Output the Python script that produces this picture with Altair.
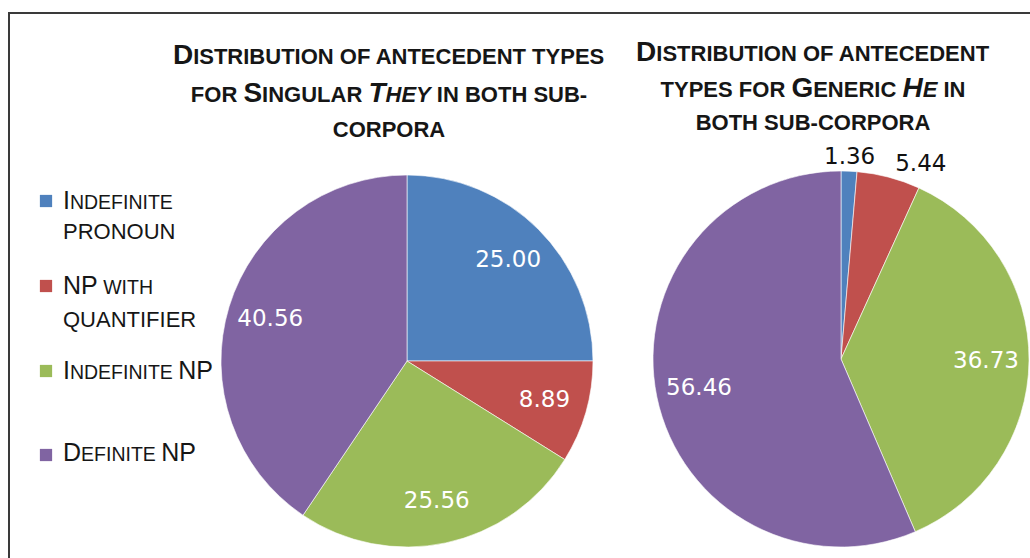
import altair as alt
import pandas as pd

# ---- data -------------------------------------------------------------
categories = ["Indefinite pronoun", "NP with quantifier", "Indefinite NP", "Definite NP"]
colors = ["#4F81BD", "#C0504D", "#9BBB59", "#8064A2"]
they_values = [25.00, 8.89, 25.56, 40.56]   # singular "they"
he_values = [1.36, 5.44, 36.73, 56.46]      # generic "he"

they_title = ["Distribution of antecedent types",
              "for Singular *They* in both sub-",
              "corpora"]
he_title = ["Distribution of antecedent",
            "types for Generic *He* in",
            "both sub-corpora"]
legend_lines = [["Indefinite", "PRONOUN"],
                ["NP with", "QUANTIFIER"],
                ["Indefinite NP"],
                ["Definite NP"]]

# ---- layout -----------------------------------------------------------
W, H = 1030, 558
FONT = "Liberation Sans"
NUM_FONT = "DejaVu Sans"
TEXT_COLOR = "#161616"
ONE = alt.Data(values=[{"n": 1}])

# advance widths (per 1000 em) for the capitals used in small-caps text
_REG = dict(A=667, B=667, C=722, D=722, E=667, F=611, G=778, H=722, I=278, J=500,
            K=667, L=556, M=833, N=722, O=778, P=667, Q=778, R=722, S=667, T=611,
            U=722, V=667, W=944, X=667, Y=667, Z=611)
_BOLD = dict(_REG, A=722, B=722, J=556, K=722, L=611)
for _t in (_REG, _BOLD):
    _t[" "] = 278
    _t["-"] = 333


def caps_runs(line, big, small):
    """Split a line into runs; lowercase letters become small capitals."""
    runs = []
    italic = False
    for ch in line:
        if ch == "*":
            italic = not italic
            continue
        if ch.isupper():
            size, glyph = big, ch
        else:
            size, glyph = small, ch.upper()
        if runs and runs[-1][1] == size and runs[-1][2] == italic:
            runs[-1][0] += glyph
        else:
            runs.append([glyph, size, italic])
    return runs


def run_width(text, size, bold):
    table = _BOLD if bold else _REG
    return sum(table[c] for c in text) * size / 1000.0


def caps_line(line, x, baseline, big, small, bold=False, anchor="left"):
    runs = caps_runs(line, big, small)
    total = sum(run_width(t, s, bold) for t, s, _ in runs)
    pos = x - total / 2 if anchor == "center" else x
    layers = []
    for text, size, italic in runs:
        lead = len(text) - len(text.lstrip(" "))
        shown = text.strip(" ")
        if shown:
            layers.append(
                alt.Chart(ONE).mark_text(
                    align="left", baseline="alphabetic", font=FONT, fontSize=size,
                    fontWeight="bold" if bold else "normal",
                    fontStyle="italic" if italic else "normal", color=TEXT_COLOR,
                ).encode(x=alt.value(pos + run_width(text[:lead], size, bold)),
                         y=alt.value(baseline), text=alt.value(shown))
            )
        pos += run_width(text, size, bold)
    return layers


color_scale = alt.Scale(domain=categories, range=colors)


def pie_layers(values, cx, cy, r, label_r, inside_min):
    df = pd.DataFrame({"category": categories, "idx": list(range(len(categories))),
                       "value": values})
    base = alt.Chart(df).encode(
        theta=alt.Theta("value:Q", stack=True),
        order=alt.Order("idx:Q"),
        x=alt.value(cx), y=alt.value(cy),
    )
    arcs = base.mark_arc(outerRadius=r, stroke="#ffffff", strokeWidth=0.6).encode(
        color=alt.Color("category:N", scale=color_scale, legend=None)
    )
    inside = base.mark_text(radius=label_r, font=NUM_FONT, fontSize=23, color="#ffffff",
                            align="center", baseline="middle").encode(
        text=alt.condition(alt.datum.value >= inside_min,
                           alt.Text("value:Q", format=".2f"), alt.value(""))
    )
    return base, [arcs, inside]


# left pie: singular they
_, they_layers = pie_layers(they_values, 407, 361, 186, 143, 0)
# right pie: generic he, small slices labelled outside the rim
he_base, he_layers = pie_layers(he_values, 841, 359, 188, 145, 10)
he_out_a = he_base.mark_text(radius=202, font=NUM_FONT, fontSize=23, color="#111111",
                             align="center", baseline="middle").encode(
    text=alt.condition(alt.datum.value < 3, alt.Text("value:Q", format=".2f"), alt.value(""))
)
he_out_b = he_base.mark_text(radius=202, font=NUM_FONT, fontSize=23, color="#111111",
                             align="left", baseline="middle", dx=3).encode(
    text=alt.condition((alt.datum.value >= 3) & (alt.datum.value < 10),
                       alt.Text("value:Q", format=".2f"), alt.value(""))
)

# titles
title_layers = []
for i, line in enumerate(they_title):
    title_layers += caps_line(line, 389, [64, 102, 137][i], 28, 22, bold=True, anchor="center")
for i, line in enumerate(he_title):
    title_layers += caps_line(line, 813, [61, 97, 130][i], 28, 22, bold=True, anchor="center")

# legend: first lines in small caps, wrapped second lines in plain capitals
legend_layers = []
square_y = [201, 286, 371, 455]
text_baselines = [[209, 239], [294, 327], [379], [461]]
for k, cat in enumerate(categories):
    legend_layers.append(
        alt.Chart(ONE).mark_square(size=150, opacity=1, color=colors[k]).encode(
            x=alt.value(46), y=alt.value(square_y[k]))
    )
    for j, line in enumerate(legend_lines[k]):
        big = 25 if j == 0 else 22
        legend_layers += caps_line(line, 63, text_baselines[k][j], big, 19.5)

# frame
frame = [
    alt.Chart(ONE).mark_rule(color="#3a3a3a", strokeWidth=2).encode(
        x=alt.value(8), x2=alt.value(W), y=alt.value(13)),
    alt.Chart(ONE).mark_rule(color="#3a3a3a", strokeWidth=2).encode(
        x=alt.value(9), y=alt.value(13), y2=alt.value(H)),
]

chart = alt.layer(
    *they_layers, *he_layers, he_out_a, he_out_b, *title_layers, *legend_layers, *frame
).resolve_scale(theta="independent").properties(
    width=W, height=H, padding=0, autosize="none", background="#ffffff"
).configure_view(stroke=None)

chart.save("out.html", embed_options={"renderer": "svg", "actions": False})
